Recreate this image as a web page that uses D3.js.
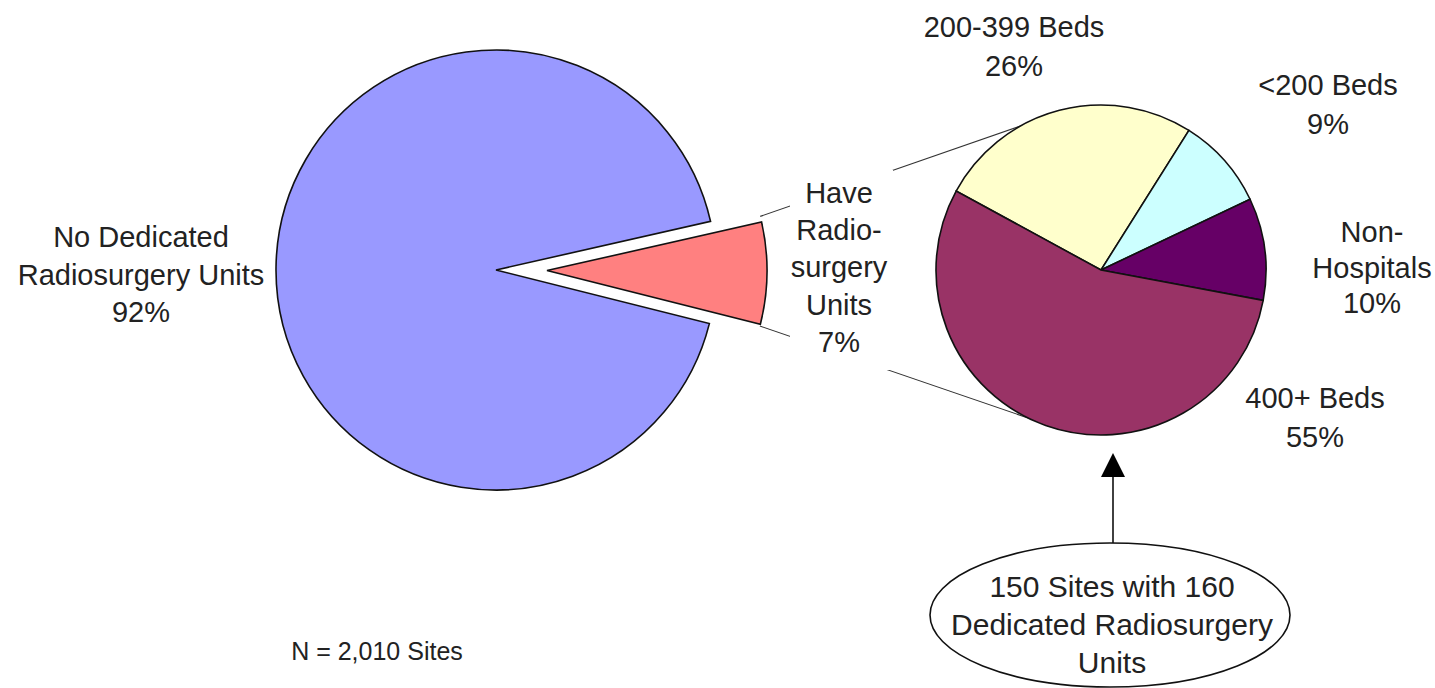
<!DOCTYPE html>
<html>
<head>
<meta charset="utf-8">
<script src="https://cdn.jsdelivr.net/npm/d3@7"></script>
<style>
  body { margin: 0; background: #fff; }
  text { font-family: "Liberation Sans", Arial, sans-serif; fill: #222; }
</style>
</head>
<body>
<script>
// main pie: sites with / without dedicated units
const mainLabels = [
    ['No Dedicated', 'Radiosurgery Units', '92%'],
    ['Have', 'Radio-', 'surgery', 'Units', '7%']
];
const mainValues = [1860, 150];
const mainColors = ['#9999ff', '#ff8080'];

// breakdown pie of the 150 sites
const subCategories = ['200-399 Beds', '<200 Beds', 'Non-Hospitals', '400+ Beds'];
const subValues = [26, 9, 10, 55];
const subColors = ['#ffffcc', '#ccffff', '#660066', '#993366'];
const subLabels = [
    ['200-399 Beds', '26%'],
    ['<200 Beds', '9%'],
    ['Non-', 'Hospitals', '10%'],
    ['400+ Beds', '55%']
];

const calloutLines = ['150 Sites with 160', 'Dedicated Radiosurgery', 'Units'];
const footnote = 'N = 2,010 Sites';

const SCREEN = { width: 1435, height: 688 };
const deg = Math.PI / 180;

const svg = d3.select('body').append('svg')
    .attr('width', SCREEN.width)
    .attr('height', SCREEN.height);

// --- main pie ---
const main = { cx: 496, cy: 270, r: 220, explode: 51 };
const mainStart = 104.1 * deg;
const mainPie = d3.pie().sort(null)
    .startAngle(mainStart)
    .endAngle(mainStart + 2 * Math.PI);
const mainArcs = mainPie(mainValues);
const mainArc = d3.arc().innerRadius(0).outerRadius(main.r);

const mainG = svg.append('g').attr('transform', `translate(${main.cx},${main.cy})`);
mainG.selectAll('path')
    .data(mainArcs)
    .enter()
    .append('path')
    .attr('d', mainArc)
    .attr('transform', (d, i) => {
        if (i !== 1) return null;
        let mid = (d.startAngle + d.endAngle) / 2;
        return `translate(${Math.sin(mid) * main.explode},${-Math.cos(mid) * main.explode})`;
    })
    .attr('fill', (d, i) => mainColors[i])
    .attr('stroke', '#111')
    .attr('stroke-width', 1.6)
    .attr('stroke-linejoin', 'miter');

// --- sub pie ---
const sub = { cx: 1101, cy: 270, r: 165 };
const subStart = -61.4 * deg;
const subPie = d3.pie().sort(null)
    .startAngle(subStart)
    .endAngle(subStart + 2 * Math.PI);
const subArcs = subPie(subValues);
const subArc = d3.arc().innerRadius(0).outerRadius(sub.r);

// connector lines from exploded slice to sub pie
const red = mainArcs[1];
const redMid = (red.startAngle + red.endAngle) / 2;
const redCx = main.cx + Math.sin(redMid) * main.explode;
const redCy = main.cy - Math.cos(redMid) * main.explode;
const pt = (cx, cy, r, a) => [cx + Math.sin(a) * r, cy - Math.cos(a) * r];
const connectors = [
    [pt(redCx, redCy, main.r, red.startAngle - 1.5 * deg), pt(sub.cx, sub.cy, sub.r, -29.2 * deg)],
    [pt(redCx, redCy, main.r, red.endAngle + 0.5 * deg), pt(sub.cx, sub.cy, sub.r, 206.3 * deg)]
];
svg.append('g')
    .selectAll('line')
    .data(connectors)
    .enter()
    .append('line')
    .attr('x1', d => d[0][0])
    .attr('y1', d => d[0][1])
    .attr('x2', d => d[1][0])
    .attr('y2', d => d[1][1])
    .attr('stroke', '#333')
    .attr('stroke-width', 1.1);

const subG = svg.append('g').attr('transform', `translate(${sub.cx},${sub.cy})`);
subG.selectAll('path')
    .data(subArcs)
    .enter()
    .append('path')
    .attr('d', subArc)
    .attr('fill', (d, i) => subColors[i])
    .attr('stroke', '#111')
    .attr('stroke-width', 1.6);

// --- labels ---
function multiline(x, y, lines, size, lh, bg) {
    let g = svg.append('g');
    if (bg) {
        g.append('rect')
            .attr('x', bg[0]).attr('y', bg[1])
            .attr('width', bg[2]).attr('height', bg[3])
            .attr('fill', '#fff');
    }
    g.append('text')
        .attr('x', x)
        .attr('y', y)
        .attr('text-anchor', 'middle')
        .style('font-size', size + 'px')
        .selectAll('tspan')
        .data(lines)
        .enter()
        .append('tspan')
        .attr('x', x)
        .attr('dy', (d, i) => i === 0 ? 0 : lh)
        .text(d => d);
    return g;
}

multiline(141, 247, mainLabels[0], 29, 37.5);
multiline(839, 203, mainLabels[1], 29, 37.2, [790, 170, 103, 200]);

const subLabelPos = [[1014, 37], [1328, 95], [1372, 242], [1315, 408]];
subLabels.forEach((lines, i) => {
    multiline(subLabelPos[i][0], subLabelPos[i][1], lines, 29, i === 2 ? 35.5 : 38.5);
});

// --- callout ellipse with arrow ---
const callout = { cx: 1110, cy: 615, rx: 180, ry: 72 };
svg.append('ellipse')
    .attr('cx', callout.cx).attr('cy', callout.cy)
    .attr('rx', callout.rx).attr('ry', callout.ry)
    .attr('fill', '#fff')
    .attr('stroke', '#111')
    .attr('stroke-width', 1.6);

svg.append('line')
    .attr('x1', 1113).attr('x2', 1113)
    .attr('y1', callout.cy - callout.ry).attr('y2', 474)
    .attr('stroke', '#111')
    .attr('stroke-width', 1.6);
svg.append('path')
    .attr('d', 'M1113,453 L1101,477 L1125,477 Z')
    .attr('fill', '#000');

multiline(1112, 597, calloutLines, 30, 38);

svg.append('text')
    .attr('x', 377)
    .attr('y', 660)
    .attr('text-anchor', 'middle')
    .style('font-size', '25px')
    .text(footnote);
</script>
</body>
</html>
